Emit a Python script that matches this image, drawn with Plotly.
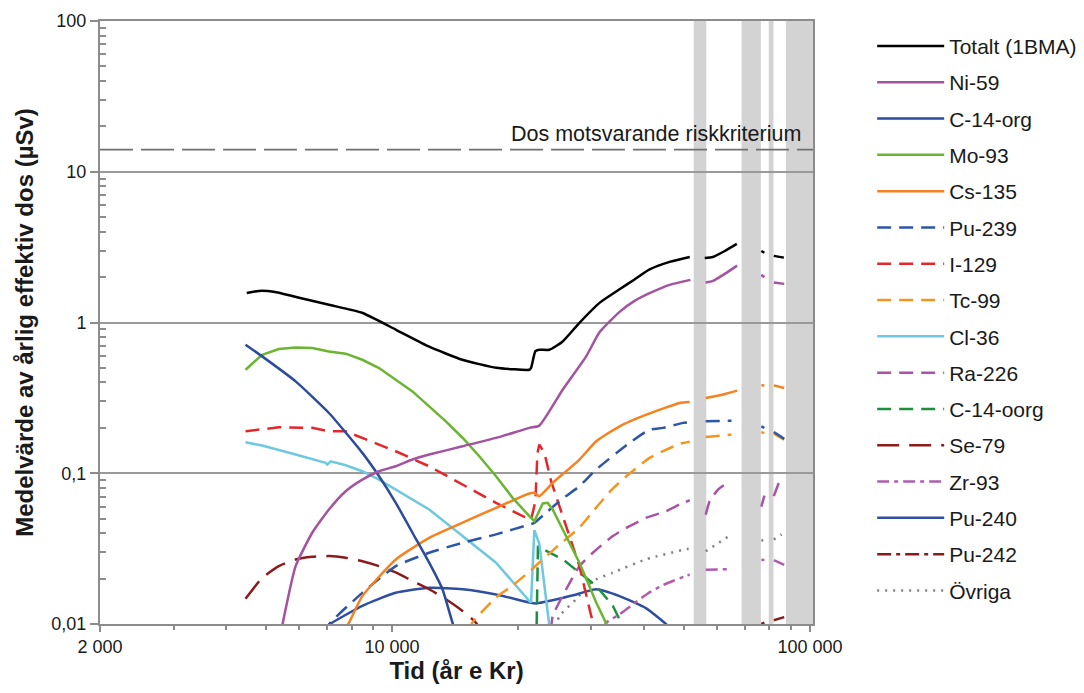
import plotly.graph_objects as go

# ---------------- data (time in år e Kr, dose in µSv); None = break in curve ----------------
tot_t = [4490, 4800, 5212, 5990, 7062, 8474, 10223, 12268, 14723, 17763, 21310, 21510, 22030, 22510, 23780, 25560, 28080, 31360, 35030, 38040, 41330, 46160, 51560, None, 56010, 58540, 62550, 66830, None, 76500, 77800, None, 81950, 86610]
tot_y = [1.57, 1.62, 1.60, 1.46, 1.31, 1.16, 0.895, 0.691, 0.566, 0.501, 0.486, 0.50, 0.645, 0.659, 0.659, 0.745, 0.995, 1.35, 1.660, 1.930, 2.250, 2.524, 2.723, None, 2.681, 2.72, 2.98, 3.32, None, 2.98, 2.90, None, 2.767, 2.694]

ni59_t = [5457, 5877, 6441, 7062, 7744, 8488, 9308, 10206, 11188, 12268, 14745, 17734, 21310, 22510, 25600, 29140, 31360, 35030, 38040, 41330, 46160, 51760, None, 56310, 58630, 62550, 66940, None, 76500, 77800, None, 81950, 86780]
ni59_y = [0.0097, 0.0242, 0.0403, 0.0575, 0.0760, 0.0908, 0.1031, 0.1112, 0.1233, 0.1330, 0.1510, 0.1716, 0.2000, 0.2070, 0.3581, 0.5957, 0.860, 1.177, 1.392, 1.566, 1.778, 1.918, None, 1.840, 1.888, 2.10, 2.384, None, 2.07, 2.00, None, 1.840, 1.804]

c14org_t = [4459, 4887, 5877, 7062, 8488, 9308, 10206, 11188, 12268, 13200, 13950, 14640]
c14org_y = [0.712, 0.596, 0.407, 0.251, 0.1365, 0.0955, 0.0637, 0.0403, 0.0255, 0.0170, 0.0102, 0.0070]

mo93_t = [4459, 4887, 5358, 5877, 6441, 7062, 7744, 8488, 9308, 10206, 11188, 12268, 13450, 14745, 16170, 17734, 19430, 21310, 21900, 22940, 23570, 24230, 25600, 28080, 30800, 32550, 33510]
mo93_y = [0.486, 0.611, 0.667, 0.683, 0.677, 0.643, 0.621, 0.566, 0.499, 0.418, 0.349, 0.278, 0.221, 0.172, 0.1297, 0.0955, 0.0687, 0.0519, 0.0481, 0.0630, 0.0636, 0.0575, 0.0424, 0.0255, 0.0139, 0.0102, 0.0085]

cs135_t = [7670, 7886, 8488, 10206, 12268, 14745, 17734, 21310, 21900, 22510, 24230, 28080, 30800, 35030, 40580, 48790, 51560, None, 56310, 62000, 66940, None, 76500, 77800, None, 81950, 86780]
cs135_y = [0.009, 0.0102, 0.0153, 0.0268, 0.0373, 0.0470, 0.0590, 0.0734, 0.0742, 0.0705, 0.0863, 0.1233, 0.1629, 0.2049, 0.2448, 0.2924, 0.2971, None, 0.3157, 0.333, 0.3531, None, 0.3828, 0.3828, None, 0.3828, 0.3681]

pu239_t = [6910, 7062, 8488, 10206, 12268, 14745, 17734, 21310, 21900, 23370, 25600, 28080, 30800, 37010, 41330, 44480, 49680, 51560, None, 56310, 64900, None, 76500, 77800, None, 81950, 86780]
pu239_y = [0.0085, 0.00995, 0.0161, 0.0242, 0.0297, 0.0346, 0.0393, 0.0457, 0.0469, 0.0547, 0.0680, 0.0820, 0.1059, 0.1590, 0.1946, 0.2000, 0.2158, 0.218, None, 0.2210, 0.2234, None, 0.2049, 0.2000, None, 0.1880, 0.1690]

i129_t = [4459, 5358, 6441, 7062, 7744, 8488, 10206, 12268, 14745, 17734, 20540, 21510, 22030, 22270, 22510, 23150, 24020, 24700, 25600, 26580, 28080, 29960, 30510]
i129_y = [0.190, 0.2017, 0.2000, 0.1897, 0.1897, 0.1716, 0.1399, 0.1112, 0.0842, 0.0637, 0.0519, 0.0493, 0.065, 0.135, 0.155, 0.1365, 0.0885, 0.0705, 0.0519, 0.0383, 0.0242, 0.0113, 0.0097]

tc99_t = [15300, 15560, 17734, 19430, 21310, 22510, 24700, 28080, 30800, 33750, 37010, 41330, 45330, 49060, 51560, None, 56310, 64900, None, 76500, 77800, None, 81950, 86780]
tc99_y = [0.009, 0.0102, 0.0150, 0.0180, 0.0223, 0.0256, 0.0322, 0.0437, 0.0593, 0.0792, 0.0995, 0.1265, 0.1435, 0.1574, 0.162, None, 0.1742, 0.1804, None, 0.1870, 0.1850, None, 0.1832, 0.1672]

cl36_t = [4459, 4887, 5877, 6934, 7000, 7130, 7744, 8488, 9308, 10206, 12268, 14745, 17734, 21310, 21510, 21900, 22510, 23790, 24000]
cl36_y = [0.1604, 0.1526, 0.1330, 0.1172, 0.1142, 0.1200, 0.1130, 0.1031, 0.0908, 0.0780, 0.0575, 0.0383, 0.0255, 0.0142, 0.0139, 0.042, 0.034, 0.0097, 0.008]

ra226_t = [24000, 24230, 26100, 28080, 30220, 33750, 37010, 40580, 45330, 48790, 51560, None, 56310, 57560, 60270, 64050, None, 76500, 77800, None, 81950, 84410]
ra226_y = [0.0090, 0.0113, 0.0170, 0.0242, 0.0297, 0.0383, 0.0446, 0.0507, 0.0560, 0.0621, 0.0662, None, 0.0532, 0.0653, 0.0780, 0.0877, None, 0.0600, 0.0710, None, 0.0705, 0.0877]

c14oorg_t = [22090, 22340, 23150, 25600, 28080, 30800, 33750, 35660, 36200]
c14oorg_y = [0.005, 0.0329, 0.031, 0.0269, 0.0219, 0.0179, 0.0132, 0.0097, 0.008]

se79_t = [4459, 4887, 5358, 5877, 6441, 7062, 7744, 8488, 9308, 10206, 11188, 12268, 13450, 14745, 15880, 16260]
se79_y = [0.0147, 0.0202, 0.0242, 0.0268, 0.0279, 0.0282, 0.0275, 0.0261, 0.0242, 0.0220, 0.0193, 0.0170, 0.0146, 0.0122, 0.0102, 0.0090]

zr93_t = [31880, 32550, 35030, 37700, 41000, 44480, 50630, 51560, None, 56310, 64050, None, 76500, 77800, None, 81950, 86780]
zr93_y = [0.009, 0.0102, 0.0116, 0.0135, 0.0160, 0.0181, 0.0209, 0.0212, None, 0.0229, 0.0231, None, 0.0266, 0.0266, None, 0.0265, 0.0247]

pu240_t = [6910, 7062, 8488, 10206, 12268, 14745, 17734, 21310, 22140, 25600, 27130, 30800, 35030, 40580, 45730, 46500]
pu240_y = [0.0094, 0.0099, 0.0132, 0.0161, 0.0174, 0.0170, 0.0157, 0.0139, 0.0137, 0.0149, 0.0155, 0.0170, 0.0153, 0.0127, 0.0097, 0.009]

pu242_t = [76500, 77800, None, 81950, 86780]
pu242_y = [0.0100, 0.0102, None, 0.0106, 0.0111]

ovr_t = [24600, 25150, 27570, 30220, 33750, 40580, 50150, 51560, None, 56310, 64900, None, 76500, 77800, None, 81950, 85550]
ovr_y = [0.0095, 0.0113, 0.0146, 0.0193, 0.0219, 0.0269, 0.0312, 0.0316, None, 0.0304, 0.0393, None, 0.0358, 0.0360, None, 0.0364, 0.0393]

series_names = ["Totalt (1BMA)", "Ni-59", "C-14-org", "Mo-93", "Cs-135", "Pu-239", "I-129", "Tc-99",
                "Cl-36", "Ra-226", "C-14-oorg", "Se-79", "Zr-93", "Pu-240", "Pu-242", "Övriga"]
series_t = [tot_t, ni59_t, c14org_t, mo93_t, cs135_t, pu239_t, i129_t, tc99_t,
            cl36_t, ra226_t, c14oorg_t, se79_t, zr93_t, pu240_t, pu242_t, ovr_t]
series_y = [tot_y, ni59_y, c14org_y, mo93_y, cs135_y, pu239_y, i129_y, tc99_y,
            cl36_y, ra226_y, c14oorg_y, se79_y, zr93_y, pu240_y, pu242_y, ovr_y]

crit_dose = 14
crit_label = "Dos motsvarande riskkriterium"
band_start = [52700, 68600, 79700, 87600]
band_end = [56500, 76300, 81800, 101700]

x_ticks = [2000, 10000, 100000]
x_ticktext = ["2 000", "10 000", "100 000"]
x_minor = [3000, 4000, 5000, 6000, 7000, 8000, 9000, 20000, 30000, 40000, 50000, 60000, 70000, 80000, 90000]
y_ticks = [0.01, 0.1, 1, 10, 100]
y_ticktext = ["0,01", "0,1", "1", "10", "100"]
y_minor = [m * d for d in (0.01, 0.1, 1, 10) for m in range(2, 10)]

# ---------------- styles ----------------
D = "14px,8px"
styles = [
    ("#000000", "solid", True), ("#a3539f", "solid", True), ("#2b4c9c", "solid", True), ("#6cb531", "solid", False),
    ("#f58220", "solid", True), ("#2e56a6", D, True), ("#e5262a", D, False), ("#f7941d", D, True),
    ("#6ec8e0", "solid", False), ("#a953a6", D, True), ("#1e8e3e", D, False), ("#8b1b1b", "22px,10px", True),
    ("#b05cb0", "12px,5px,4px,5px", True), ("#2e4fa0", "solid", True), ("#8b1b1b", "14px,5px,4px,5px", False),
    ("#808080", "2px,6px", True),
]

FONT = "Liberation Sans, Arial, sans-serif"
TXT = "#1a1a1a"
fig = go.Figure()

for i in reversed(range(len(series_names))):
    col, dash, smooth = styles[i]
    line = dict(color=col, width=2.5, dash=dash)
    if smooth:
        line.update(shape="spline", smoothing=0.5)
    fig.add_trace(go.Scatter(
        x=series_t[i], y=series_y[i], mode="lines", name=series_names[i],
        line=line, connectgaps=False, legendrank=i + 1, legendgroup=f"g{i}",
    ))

for x0, x1 in zip(band_start, band_end):
    fig.add_vrect(x0=x0, x1=x1, fillcolor="#d3d3d3", line_width=0, layer="below")

fig.add_hline(y=crit_dose, line=dict(color="#707070", width=1.8, dash="33px,8px"), layer="above")
fig.add_annotation(x=4.9835, y=1.146, xref="x", yref="y", text=crit_label, showarrow=False,
                   xanchor="right", yanchor="bottom", yshift=2,
                   font=dict(family=FONT, size=21.5, color=TXT))

axis_common = dict(type="log", showline=True, linecolor="#8c8c8c", linewidth=2, mirror=True,
                   tickfont=dict(family=FONT, size=18, color=TXT), ticks="outside",
                   tickcolor="#8c8c8c", tickwidth=2, zeroline=False, automargin=False)

fig.update_xaxes(**axis_common, range=[3.30103, 5.00732], showgrid=False,
                 tickmode="array", tickvals=x_ticks, ticktext=x_ticktext, ticklen=6,
                 ticklabelstandoff=-1,
                 minor=dict(tickmode="array", tickvals=x_minor, ticks="outside", ticklen=4,
                            tickcolor="#8c8c8c", tickwidth=2, showgrid=False),
                 title=dict(text="<b>Tid (år e Kr)</b>", font=dict(family=FONT, size=24, color=TXT),
                            standoff=7))
fig.update_yaxes(**axis_common, range=[-2, 2], showgrid=True, gridcolor="#9a9a9a", gridwidth=2,
                 tickmode="array", tickvals=y_ticks, ticktext=y_ticktext, ticklen=8,
                 minor=dict(tickmode="array", tickvals=y_minor, ticks="inside", ticklen=6,
                            tickcolor="#8c8c8c", tickwidth=2, showgrid=False),
                 title=dict(text="<b>Medelvärde av årlig effektiv dos (µSv)</b>",
                            font=dict(family=FONT, size=24, color=TXT), standoff=11))

# page body adds an 8 px margin; figure is sized to fit the 1084x693 window
fig.update_layout(
    width=1076, height=685,
    margin=dict(l=92, r=271, t=13, b=69, autoexpand=False),
    plot_bgcolor="white", paper_bgcolor="white",
    font=dict(family=FONT, color=TXT),
    showlegend=True,
    legend=dict(x=1.083, y=0.992, xanchor="left", yanchor="top", font=dict(family=FONT, size=21, color=TXT),
                itemwidth=67, tracegroupgap=6, bgcolor="rgba(0,0,0,0)", traceorder="grouped"),
)

fig.write_html("out.html")
